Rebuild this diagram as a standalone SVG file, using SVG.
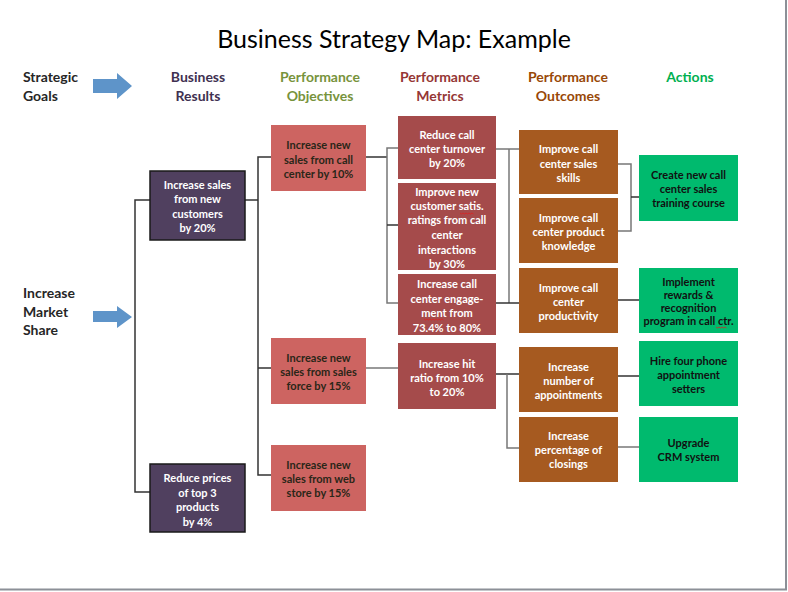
<svg xmlns="http://www.w3.org/2000/svg" width="788" height="592" viewBox="0 0 788 592">
<style>
text{font-family:Lato,"Open Sans","Liberation Sans",sans-serif;font-weight:bold}
.t{font-weight:normal;font-size:25px;fill:#000}
.h{font-size:14px}
.n{font-size:11px;text-anchor:middle}
.w{fill:#fff}
.d{fill:#2a2618}
.k{fill:#111}
.br{fill:#50405F;stroke:#1a1a1a;stroke-width:1.5}
.ob{fill:#CD6461}
.me{fill:#A54B4B}
.ou{fill:#A65A20}
.ac{fill:#00BA6E}
.c{fill:none;stroke:#333;stroke-width:1.5}
.g{fill:none;stroke:#777;stroke-width:1.5}
.arr{fill:#5E94C9}
.sq{fill:none;stroke:#e02020;stroke-width:0.8}
</style>
<rect width="788" height="592" fill="#fff"/>
<line x1="786" y1="0" x2="786" y2="590" stroke="#8c9097" stroke-width="2"/>
<line x1="0" y1="589.5" x2="787" y2="589.5" stroke="#8c9097" stroke-width="2"/>

<text class="t" x="394" y="48" text-anchor="middle">Business Strategy Map: Example</text>

<g id="headers">
<text class="h" x="23" y="82" fill="#262626">Strategic</text>
<text class="h" x="23" y="101" fill="#262626">Goals</text>
<polygon class="arr" points="93,79 117,79 117,73 132,86 117,99 117,93 93,93"/>
<text class="h" x="198" y="82" fill="#3F3151" text-anchor="middle">Business</text>
<text class="h" x="198" y="101" fill="#3F3151" text-anchor="middle">Results</text>
<text class="h" x="320" y="82" fill="#77933C" text-anchor="middle">Performance</text>
<text class="h" x="320" y="101" fill="#77933C" text-anchor="middle">Objectives</text>
<text class="h" x="440" y="82" fill="#953735" text-anchor="middle">Performance</text>
<text class="h" x="440" y="101" fill="#953735" text-anchor="middle">Metrics</text>
<text class="h" x="568" y="82" fill="#984807" text-anchor="middle">Performance</text>
<text class="h" x="568" y="101" fill="#984807" text-anchor="middle">Outcomes</text>
<text class="h" x="690" y="82" fill="#00B050" text-anchor="middle">Actions</text>
</g>

<g id="goal">
<text class="h" x="23" y="298" fill="#262626">Increase</text>
<text class="h" x="23" y="317" fill="#262626">Market</text>
<text class="h" x="23" y="335" fill="#262626">Share</text>
<polygon class="arr" points="93,311 117,311 117,306 132,317 117,328 117,322 93,322"/>
</g>

<g id="connectors">
<path class="c" d="M150,200 H135 V492 H150"/>
<path class="c" d="M245,200 H258"/>
<path class="c" d="M271,157 H258 V475 H271"/>
<path class="c" d="M258,368 H271"/>
<path class="c" d="M366,157 H387"/>
<path class="g" d="M398,148 H387 V303 H398"/>
<path class="c" d="M387,225 H398"/>
<path class="g" d="M366,368 H398"/>
<path class="g" d="M496,149 H519"/>
<path class="g" d="M509,149 V303"/>
<path class="c" d="M496,303 H519"/>
<path class="c" d="M496,374 H519"/>
<path class="g" d="M507,374 V448 H519"/>
<path class="g" d="M618,164 H631 V231 H618"/>
<path class="c" d="M631,197 H639"/>
<path class="c" d="M618,300 H639"/>
<path class="c" d="M618,376 H639"/>
<path class="g" d="M618,447 H639"/>
</g>

<g id="br1"><rect class="br" x="150" y="171" width="95" height="69"/>
<text class="n w" x="197.5" y="189">Increase sales<tspan x="197.5" dy="14.3">from new</tspan><tspan x="197.5" dy="14.3">customers</tspan><tspan x="197.5" dy="14.3">by 20%</tspan></text></g>
<g id="br2"><rect class="br" x="150" y="464" width="95" height="68"/>
<text class="n w" x="197.5" y="482">Reduce prices<tspan x="197.5" dy="14.5">of top 3</tspan><tspan x="197.5" dy="14.5">products</tspan><tspan x="197.5" dy="14.5">by 4%</tspan></text></g>

<g id="ob1"><rect class="ob" x="271" y="125" width="95" height="66"/>
<text class="n d" x="318.5" y="149">Increase new<tspan x="318.5" dy="14.5">sales from call</tspan><tspan x="318.5" dy="14.5">center by 10%</tspan></text></g>
<g id="ob2"><rect class="ob" x="271" y="338" width="95" height="66"/>
<text class="n d" x="318.5" y="362">Increase new<tspan x="318.5" dy="14">sales from sales</tspan><tspan x="318.5" dy="14">force by 15%</tspan></text></g>
<g id="ob3"><rect class="ob" x="271" y="445" width="95" height="66"/>
<text class="n d" x="318.5" y="469">Increase new<tspan x="318.5" dy="14">sales from web</tspan><tspan x="318.5" dy="14">store by 15%</tspan></text></g>

<g id="me1"><rect class="me" x="398" y="116" width="98" height="63"/>
<text class="n w" x="447" y="139">Reduce call<tspan x="447" dy="14">center turnover</tspan><tspan x="447" dy="14">by 20%</tspan></text></g>
<g id="me2"><rect class="me" x="398" y="183" width="98" height="87"/>
<text class="n w" x="447" y="196">Improve new<tspan x="447" dy="14">customer satis.</tspan><tspan x="447" dy="14">ratings from call</tspan><tspan x="447" dy="15">center</tspan><tspan x="447" dy="15">interactions</tspan><tspan x="447" dy="14">by 30%</tspan></text>
<path class="sq" d="M460,213 l1.5,1 1.5,-1 1.5,1 1.5,-1 1.5,1 1.5,-1 1.5,1 1.5,-1 1.5,1"/></g>
<g id="me3"><rect class="me" x="398" y="274" width="98" height="61"/>
<text class="n w" x="447" y="288">Increase call<tspan x="447" dy="14.5">center engage-</tspan><tspan x="447" dy="14.5">ment from</tspan><tspan x="447" dy="14.5">73.4% to 80%</tspan></text>
<path class="sq" d="M424,319 l1.5,1 1.5,-1 1.5,1 1.5,-1 1.5,1 1.5,-1 1.5,1 1.5,-1 1.5,1 1.5,-1 1.5,1 1.5,-1 1.5,1"/></g>
<g id="me4"><rect class="me" x="398" y="343" width="98" height="66"/>
<text class="n w" x="447" y="368">Increase hit<tspan x="447" dy="14">ratio from 10%</tspan><tspan x="447" dy="14">to 20%</tspan></text></g>

<g id="ou1"><rect class="ou" x="519" y="130" width="99" height="64"/>
<text class="n w" x="568.5" y="153">Improve call<tspan x="568.5" dy="14.5">center sales</tspan><tspan x="568.5" dy="14.5">skills</tspan></text></g>
<g id="ou2"><rect class="ou" x="519" y="198" width="99" height="65"/>
<text class="n w" x="568.5" y="222">Improve call<tspan x="568.5" dy="14">center product</tspan><tspan x="568.5" dy="14">knowledge</tspan></text></g>
<g id="ou3"><rect class="ou" x="519" y="268" width="99" height="65"/>
<text class="n w" x="568.5" y="292">Improve call<tspan x="568.5" dy="14">center</tspan><tspan x="568.5" dy="14">productivity</tspan></text></g>
<g id="ou4"><rect class="ou" x="519" y="347" width="99" height="65"/>
<text class="n w" x="568.5" y="371">Increase<tspan x="568.5" dy="14">number of</tspan><tspan x="568.5" dy="14">appointments</tspan></text></g>
<g id="ou5"><rect class="ou" x="519" y="417" width="99" height="65"/>
<text class="n w" x="568.5" y="440">Increase<tspan x="568.5" dy="14">percentage of</tspan><tspan x="568.5" dy="14">closings</tspan></text></g>

<g id="ac1"><rect class="ac" x="639" y="155" width="99" height="66"/>
<text class="n k" x="688.5" y="179">Create new call<tspan x="688.5" dy="14">center sales</tspan><tspan x="688.5" dy="14">training course</tspan></text></g>
<g id="ac2"><rect class="ac" x="639" y="268" width="99" height="65"/>
<text class="n k" x="688.5" y="286">Implement<tspan x="688.5" dy="13">rewards &amp;</tspan><tspan x="688.5" dy="13">recognition</tspan><tspan x="688.5" dy="13">program in call ctr.</tspan></text>
<path class="sq" d="M716,327 l1.5,1 1.5,-1 1.5,1 1.5,-1 1.5,1 1.5,-1 1.5,1"/></g>
<g id="ac3"><rect class="ac" x="639" y="341" width="99" height="65"/>
<text class="n k" x="688.5" y="365">Hire four phone<tspan x="688.5" dy="14">appointment</tspan><tspan x="688.5" dy="14">setters</tspan></text></g>
<g id="ac4"><rect class="ac" x="639" y="417" width="99" height="65"/>
<text class="n k" x="688.5" y="447">Upgrade<tspan x="688.5" dy="14">CRM system</tspan></text></g>
</svg>
